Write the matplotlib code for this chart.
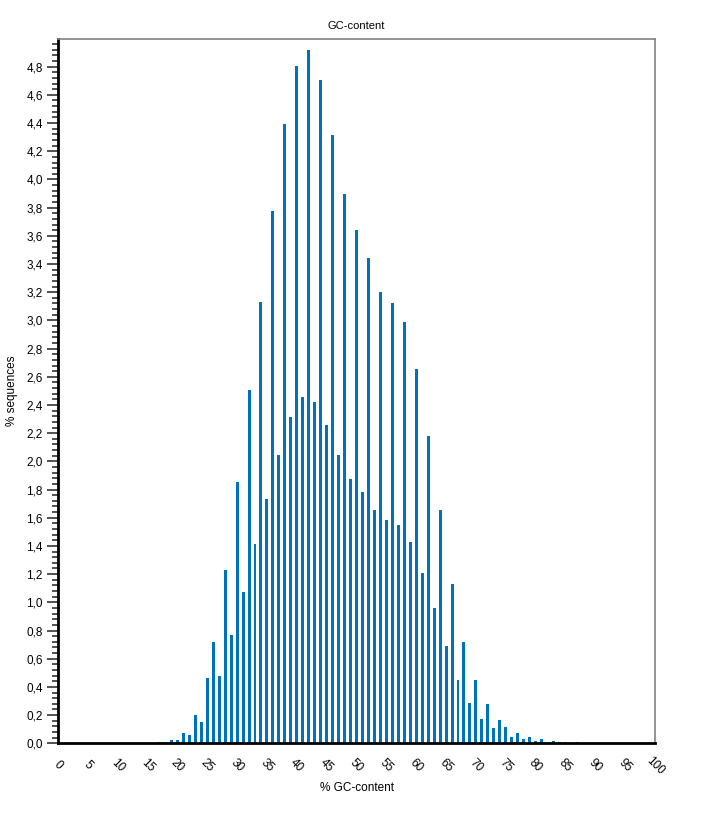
import matplotlib.pyplot as plt
from matplotlib.ticker import MultipleLocator, FuncFormatter

plt.rcParams['font.family'] = ['Liberation Sans', 'DejaVu Sans']

# GC-content (%) and share of sequences (%)
gc_content = list(range(17, 88))
pct_sequences = [
    0.011, 0.009, 0.024, 0.021, 0.075, 0.060, 0.204, 0.154,   # 17-24
    0.462, 0.720, 0.479, 1.232, 0.768, 1.856, 1.076, 2.503,   # 25-32
    1.417, 3.131, 1.735, 3.779, 2.043, 4.390, 2.318, 4.808,   # 33-40
    2.456, 4.915, 2.418, 4.708, 2.259, 4.312, 2.046, 3.897,   # 41-48
    1.873, 3.643, 1.783, 3.442, 1.652, 3.203, 1.581, 3.120,   # 49-56
    1.546, 2.990, 1.427, 2.655, 1.209, 2.180, 0.962, 1.652,   # 57-64
    0.690, 1.130, 0.450, 0.716, 0.284, 0.450, 0.173, 0.277,   # 65-72
    0.107, 0.168, 0.118, 0.047, 0.071, 0.030, 0.043, 0.014,   # 73-80
    0.028, 0.010, 0.014, 0.010, 0.010, 0.004, 0.010,          # 81-87
]
x_ticks = list(range(0, 101, 5))

fig = plt.figure(figsize=(7.13, 8.16), dpi=100)
ax = fig.add_axes([0.0813, 0.0891, 0.8374, 0.8629])

ax.bar(gc_content, pct_sequences, width=0.5, color='#0072BD', linewidth=0)

ax.set_xlim(0, 100)
ax.set_ylim(0, 4.995)  # top edge at 5.0 but no "5,0" label

# y axis: comma decimals, major every 0.2, minor every 0.04
ax.yaxis.set_major_locator(MultipleLocator(0.2))
ax.yaxis.set_minor_locator(MultipleLocator(0.04))
ax.yaxis.set_major_formatter(FuncFormatter(lambda v, p: f'{v:.1f}'.replace('.', ',')))
ax.tick_params(axis='y', which='major', direction='out', length=8, width=1.2,
               color='#333333', labelsize=8.5, pad=3)
ax.tick_params(axis='y', which='minor', direction='out', length=4, width=1.2,
               color='#333333')

# x axis: rotated labels, no tick marks
ax.set_xticks(x_ticks)
ax.set_xticklabels([str(t) for t in x_ticks], rotation=-45, ha='center', va='center',
                   rotation_mode='default')
ax.tick_params(axis='x', length=0, labelsize=8.5, pad=16)

for side in ['left', 'bottom']:
    ax.spines[side].set_color('black')
    ax.spines[side].set_linewidth(2)
for side in ['top', 'right']:
    ax.spines[side].set_color('#808080')
    ax.spines[side].set_linewidth(1.2)

ax.set_title('GC-content', fontsize=8, pad=7)
ax.set_xlabel('% GC-content', fontsize=8.5, labelpad=4)
ax.set_ylabel('% sequences', fontsize=8.5, labelpad=6)

fig.savefig('out.png', dpi=100)
